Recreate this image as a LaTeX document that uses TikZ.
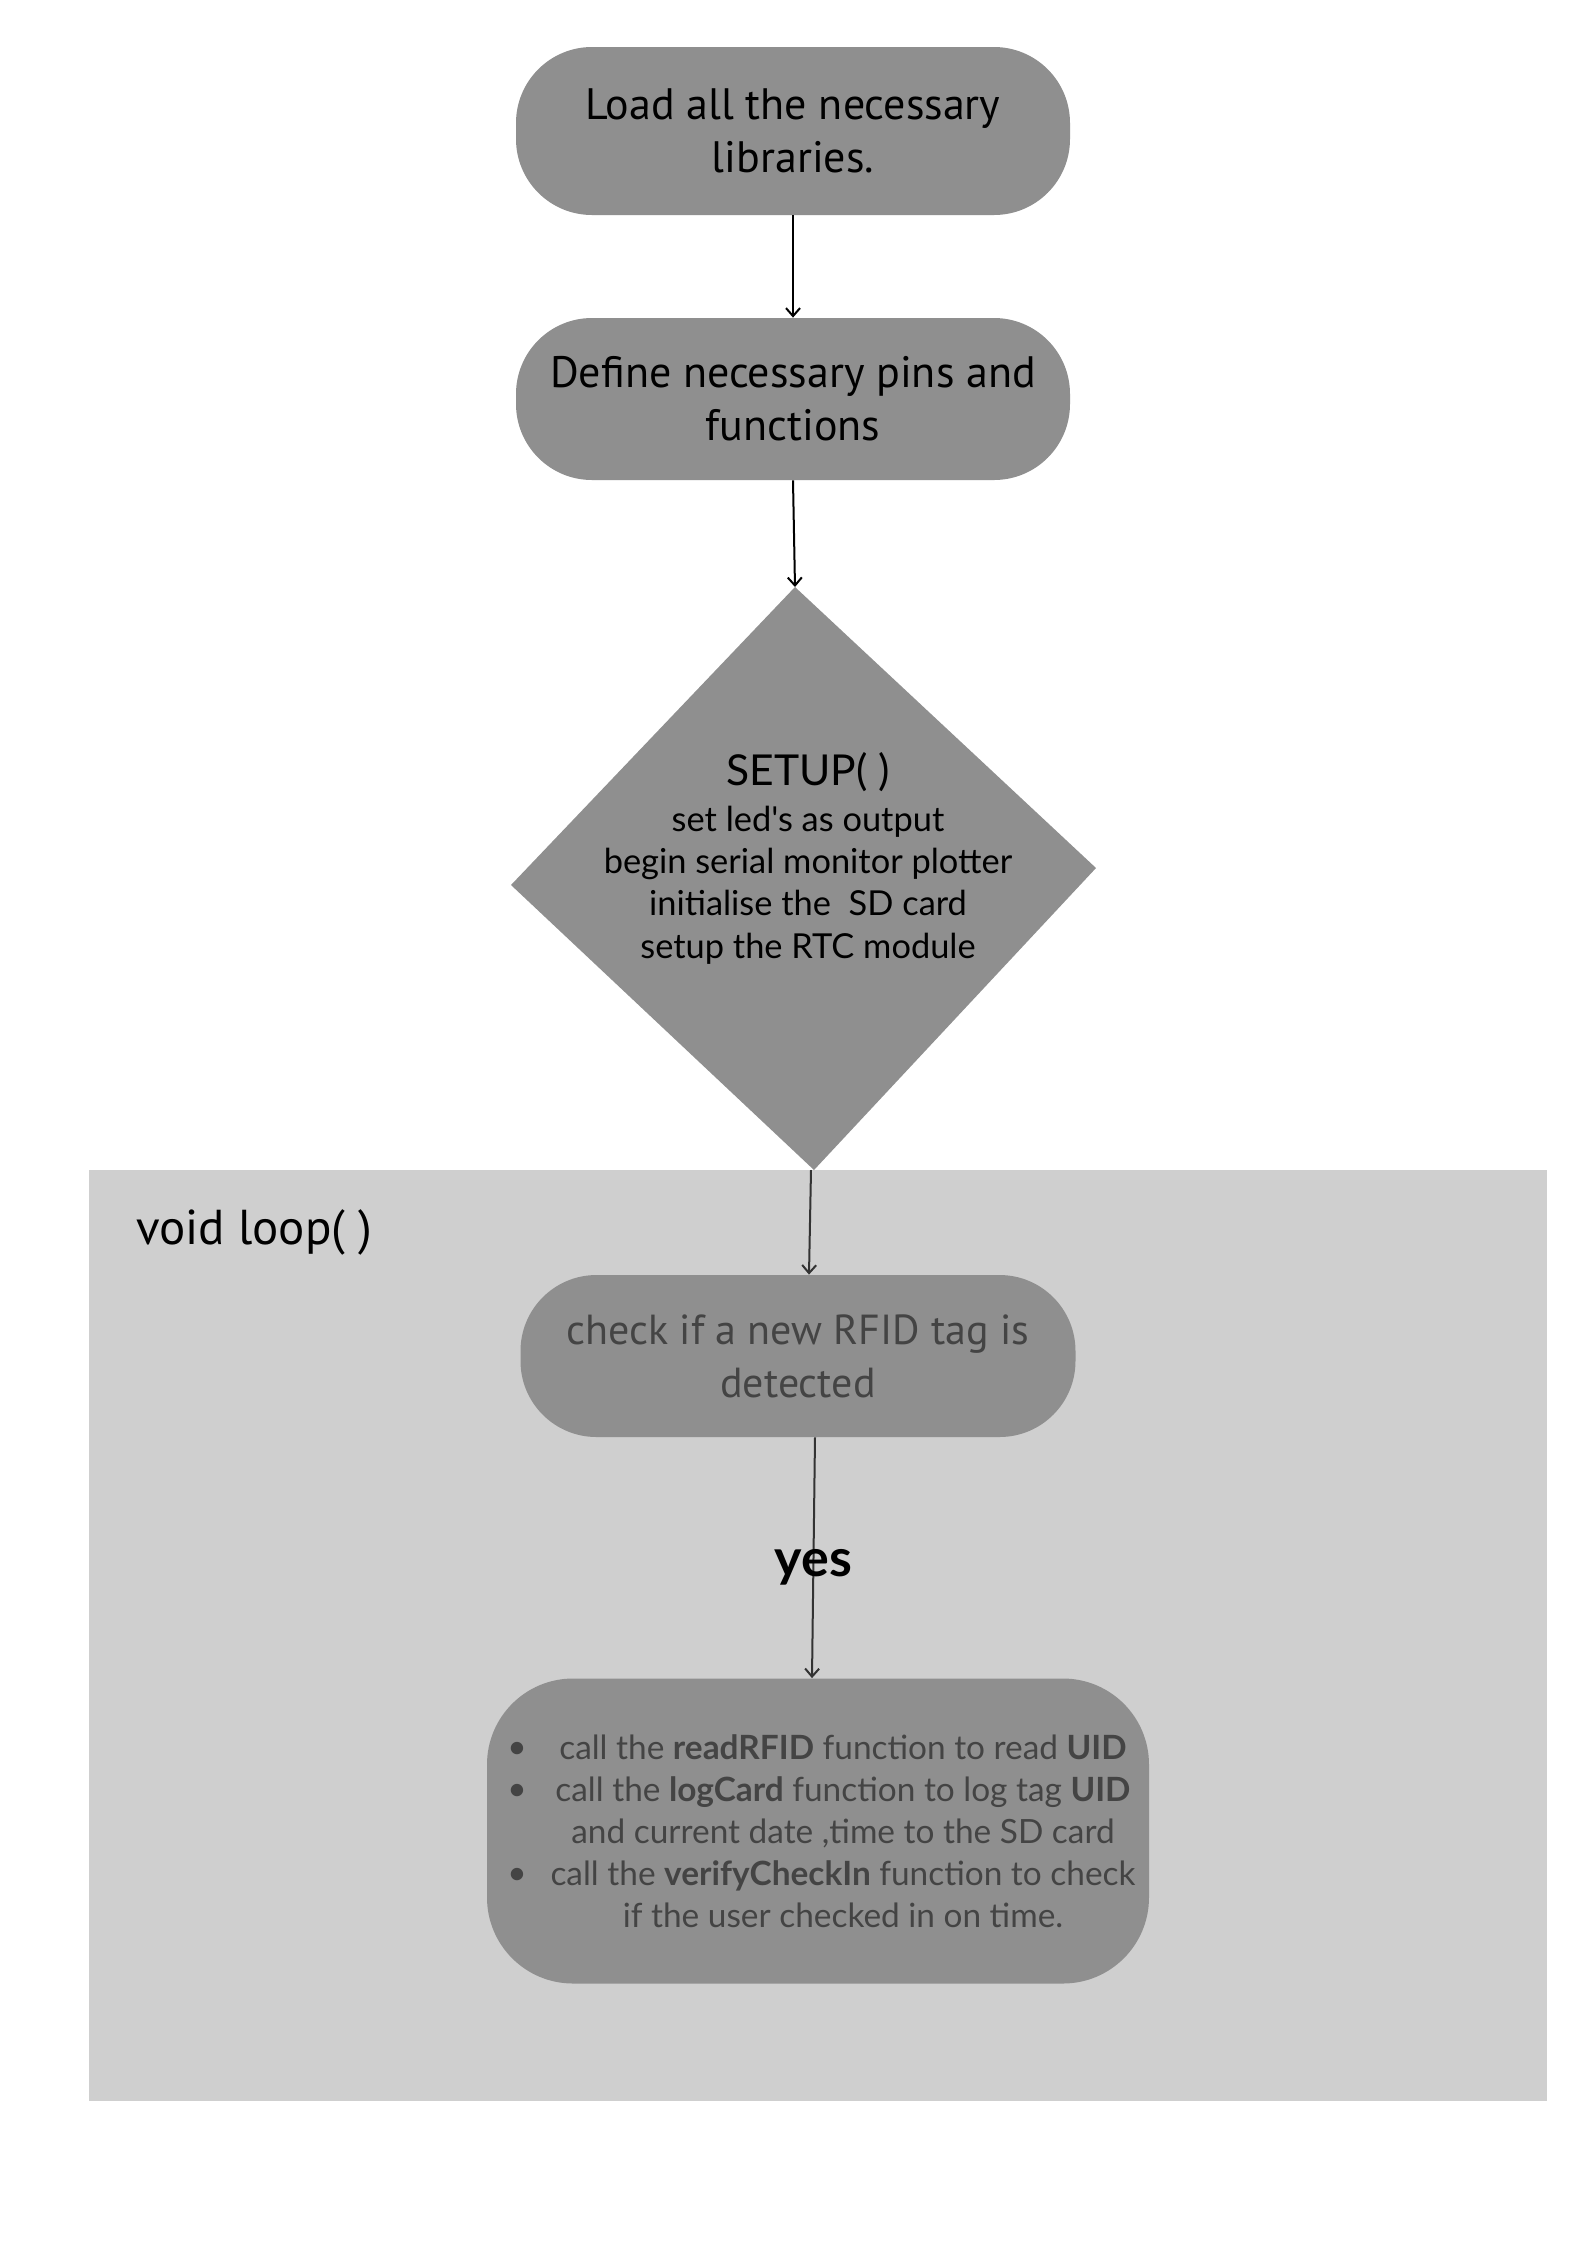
\documentclass[tikz,border=0pt]{standalone}
\usepackage{fontspec}
\setmainfont{Lato}
\newfontfamily\boxfont{PT Sans}
\newfontfamily\dfont{Lato}
\usetikzlibrary{arrows.meta}
\definecolor{boxgray}{HTML}{8F8F8F}
\definecolor{loopgray}{HTML}{CFCFCF}
\definecolor{txtgray}{HTML}{444444}
\definecolor{arrgray}{HTML}{333333}
\begin{document}
\begin{tikzpicture}[x=0.5pt,y=-0.5pt,
  proc/.style={fill=boxgray, draw=none, rounded corners=38pt, minimum width=277pt,
    minimum height=82pt, inner sep=0pt, align=center,
    font=\boxfont\fontsize{22}{26.5}\selectfont},
  bul/.style={inner sep=0pt, text=txtgray, font=\dfont\fontsize{16.7}{21}\selectfont},
  arr/.style={-{Straight Barb[length=4pt,width=7pt]}, line width=1pt}]
\fill[white] (0,0) rectangle (1587,2245);
\useasboundingbox (0,0) rectangle (1587,2245);
% loop region
\fill[loopgray] (89,1170) rectangle (1547,2101);
\node[anchor=west, inner sep=0pt, font=\boxfont\fontsize{24.5}{28}\selectfont] (looplbl) at (136,1232) {void loop( )};

% top boxes
\node[proc, minimum height=84pt] (load) at (793,131) {Load all the necessary\\libraries.};
\node[proc, minimum height=81pt] (def) at (793,399) {Define necessary pins and\\functions};

% diamond
\coordinate (dtop) at (795,587);
\coordinate (dleft) at (511,885);
\coordinate (dright) at (1096,868);
\coordinate (dbot) at (814,1170);
\fill[boxgray] (dtop) -- (dright) -- (dbot) -- (dleft) -- cycle;
\node[inner sep=0pt, font=\dfont\fontsize{21.3}{24}\selectfont] (setupt) at (808,772) {SETUP( )};
\node[inner sep=0pt, align=center, font=\dfont\fontsize{17.2}{21.2}\selectfont] (setupb) at (808,885)
  {set led's as output\\begin serial monitor plotter\\initialise the\ \ SD card\\setup the RTC module};

% loop boxes
\node[proc, minimum width=277.5pt, minimum height=81pt, text=txtgray,
  font=\boxfont\fontsize{21}{26.5}\selectfont] (check) at (798,1356)
  {check if a new RFID tag is\\detected};
\node[fill=boxgray, rounded corners=43pt, minimum width=331pt, minimum height=152.5pt, inner sep=0pt] (act) at (818,1831) {};
\node[inner sep=0pt, align=center, text=txtgray, font=\dfont\fontsize{16.7}{21}\selectfont] (acttxt) at (843,1831)
  {call the \textbf{readRFID} function to read \textbf{UID}\\
   call the \textbf{logCard} function to log tag \textbf{UID}\\
   and current date ,time to the SD card\\
   call the \textbf{verifyCheckIn} function to check\\
   if the user checked in on time.};
\node[bul] (b1) at (517,1750) {•};
\node[bul] (b2) at (517,1792) {•};
\node[bul] (b3) at (517,1876) {•};

% connectors
\draw[arr] (load.south) -- (def.north);
\draw[arr] (def.south) -- (dtop);
\draw[arr, draw=arrgray] ([xshift=-1.5pt]dbot) -- ([xshift=5.5pt]check.north);
\draw[arr, draw=arrgray] ([xshift=8.5pt]check.south) -- ([xshift=-3pt]act.north)
  node[pos=0.51, yshift=-3.5pt, inner sep=0pt, text=black, font=\dfont\bfseries\fontsize{26}{30}\selectfont] (yes) {yes};
\end{tikzpicture}
\end{document}
